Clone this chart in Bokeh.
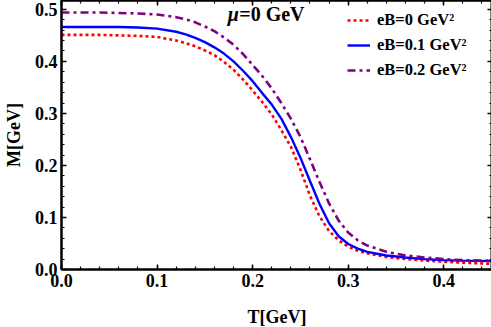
from bokeh.plotting import figure
from bokeh.models import (Range1d, SingleIntervalTicker, PrintfTickFormatter, LinearAxis,
                          Legend, LegendItem, Label)
from bokeh.embed import file_html
from bokeh.resources import INLINE

# Temperature grid [GeV]
T = [0.00, 0.02, 0.04, 0.06, 0.08, 0.10, 0.12, 0.13, 0.14, 0.15, 0.16, 0.17, 0.18, 0.19,
     0.20, 0.21, 0.22, 0.23, 0.24, 0.25, 0.26, 0.27, 0.28, 0.29, 0.30, 0.31, 0.32, 0.34,
     0.36, 0.38, 0.40, 0.42, 0.45]

# Constituent mass M [GeV]
M_eB0 = [0.451, 0.451, 0.451, 0.450, 0.449, 0.447, 0.440, 0.435, 0.429, 0.421, 0.412, 0.399,
         0.384, 0.365, 0.344, 0.322, 0.298, 0.268, 0.236, 0.192, 0.142, 0.102, 0.074, 0.056,
         0.044, 0.036, 0.031, 0.024, 0.020, 0.017, 0.015, 0.013, 0.011]
M_eB01 = [0.466, 0.466, 0.466, 0.466, 0.465, 0.463, 0.457, 0.452, 0.445, 0.437, 0.427, 0.415,
          0.400, 0.382, 0.362, 0.339, 0.317, 0.290, 0.255, 0.215, 0.170, 0.126, 0.089, 0.064,
          0.049, 0.040, 0.034, 0.027, 0.023, 0.020, 0.018, 0.017, 0.016]
M_eB02 = [0.494, 0.494, 0.494, 0.493, 0.492, 0.490, 0.485, 0.481, 0.475, 0.467, 0.458, 0.446,
          0.432, 0.414, 0.393, 0.372, 0.348, 0.320, 0.290, 0.255, 0.212, 0.168, 0.127, 0.094,
          0.071, 0.056, 0.046, 0.034, 0.027, 0.023, 0.020, 0.018, 0.017]

labels = ["eB=0 GeV\u00b2", "eB=0.1 GeV\u00b2", "eB=0.2 GeV\u00b2"]
title_mu = "\u03bc"
title_rest = "=0 GeV"

FONT = "Liberation Serif"

p = figure(output_backend="svg", toolbar_location=None,
           x_range=Range1d(0, 0.451), y_range=Range1d(0, 0.517),
           frame_width=431, frame_height=269,
           min_border_left=51, min_border_right=0, min_border_top=0, min_border_bottom=48)
p.background_fill_color = "white"
p.border_fill_color = "white"
p.outline_line_color = "black"
p.outline_line_width = 2
p.xgrid.visible = False
p.ygrid.visible = False

r0 = p.line(T, M_eB0, line_color="#ff0000", line_width=2.6, line_dash="3 3")
r1 = p.line(T, M_eB01, line_color="#0000ff", line_width=2.4)
r2 = p.line(T, M_eB02, line_color="#800080", line_width=2.6, line_dash="8 4 3 4")


def style_axis(ax, labels_on=True):
    ax.ticker = SingleIntervalTicker(interval=0.1, num_minor_ticks=5)
    ax.formatter = PrintfTickFormatter(format="%.1f")
    ax.axis_line_width = 2
    ax.axis_line_color = "black"
    ax.major_tick_in = 5
    ax.major_tick_out = 0
    ax.minor_tick_in = 3
    ax.minor_tick_out = 0
    ax.major_tick_line_width = 1.5
    ax.minor_tick_line_width = 1.2
    ax.major_tick_line_color = "black"
    ax.minor_tick_line_color = "black"
    ax.major_label_text_font = FONT
    ax.major_label_text_font_style = "bold"
    ax.major_label_text_font_size = "18px"
    ax.major_label_text_color = "black"
    ax.axis_label_text_font = FONT
    ax.axis_label_text_font_style = "bold"
    ax.axis_label_text_font_size = "18px"
    ax.axis_label_text_color = "black"
    if not labels_on:
        ax.major_label_text_font_size = "1px"
        ax.major_label_text_color = None
        ax.major_label_standoff = 0


for ax in p.xaxis + p.yaxis:
    style_axis(ax)
p.xaxis.axis_label = "T[GeV]"
p.yaxis.axis_label = "M[GeV]"
p.xaxis.major_label_standoff = 4
p.xaxis.axis_label_standoff = 17
p.yaxis.major_label_standoff = 4
p.yaxis.axis_label_standoff = 8

top_ax = LinearAxis()
style_axis(top_ax, labels_on=False)
right_ax = LinearAxis()
style_axis(right_ax, labels_on=False)
p.add_layout(top_ax, "above")
p.add_layout(right_ax, "right")

legend = Legend(items=[LegendItem(label=labels[0], renderers=[r0]),
                       LegendItem(label=labels[1], renderers=[r1]),
                       LegendItem(label=labels[2], renderers=[r2])],
                location=(286, 189), padding=0, spacing=5, glyph_width=23, glyph_height=20,
                label_standoff=7, background_fill_alpha=0, border_line_color=None,
                label_text_font=FONT, label_text_font_style="bold", label_text_font_size="16.5px",
                label_text_color="black")
p.add_layout(legend, "center")

p.add_layout(Label(x=0.174, y=0.492, text=title_mu, text_font=FONT, text_font_style="bold italic",
                   text_font_size="20px", text_baseline="middle", text_color="black"))
p.add_layout(Label(x=0.186, y=0.492, text=title_rest, text_font=FONT, text_font_style="bold",
                   text_font_size="20px", text_baseline="middle", text_color="black"))

open("out.html", "w").write(file_html(p, INLINE))
